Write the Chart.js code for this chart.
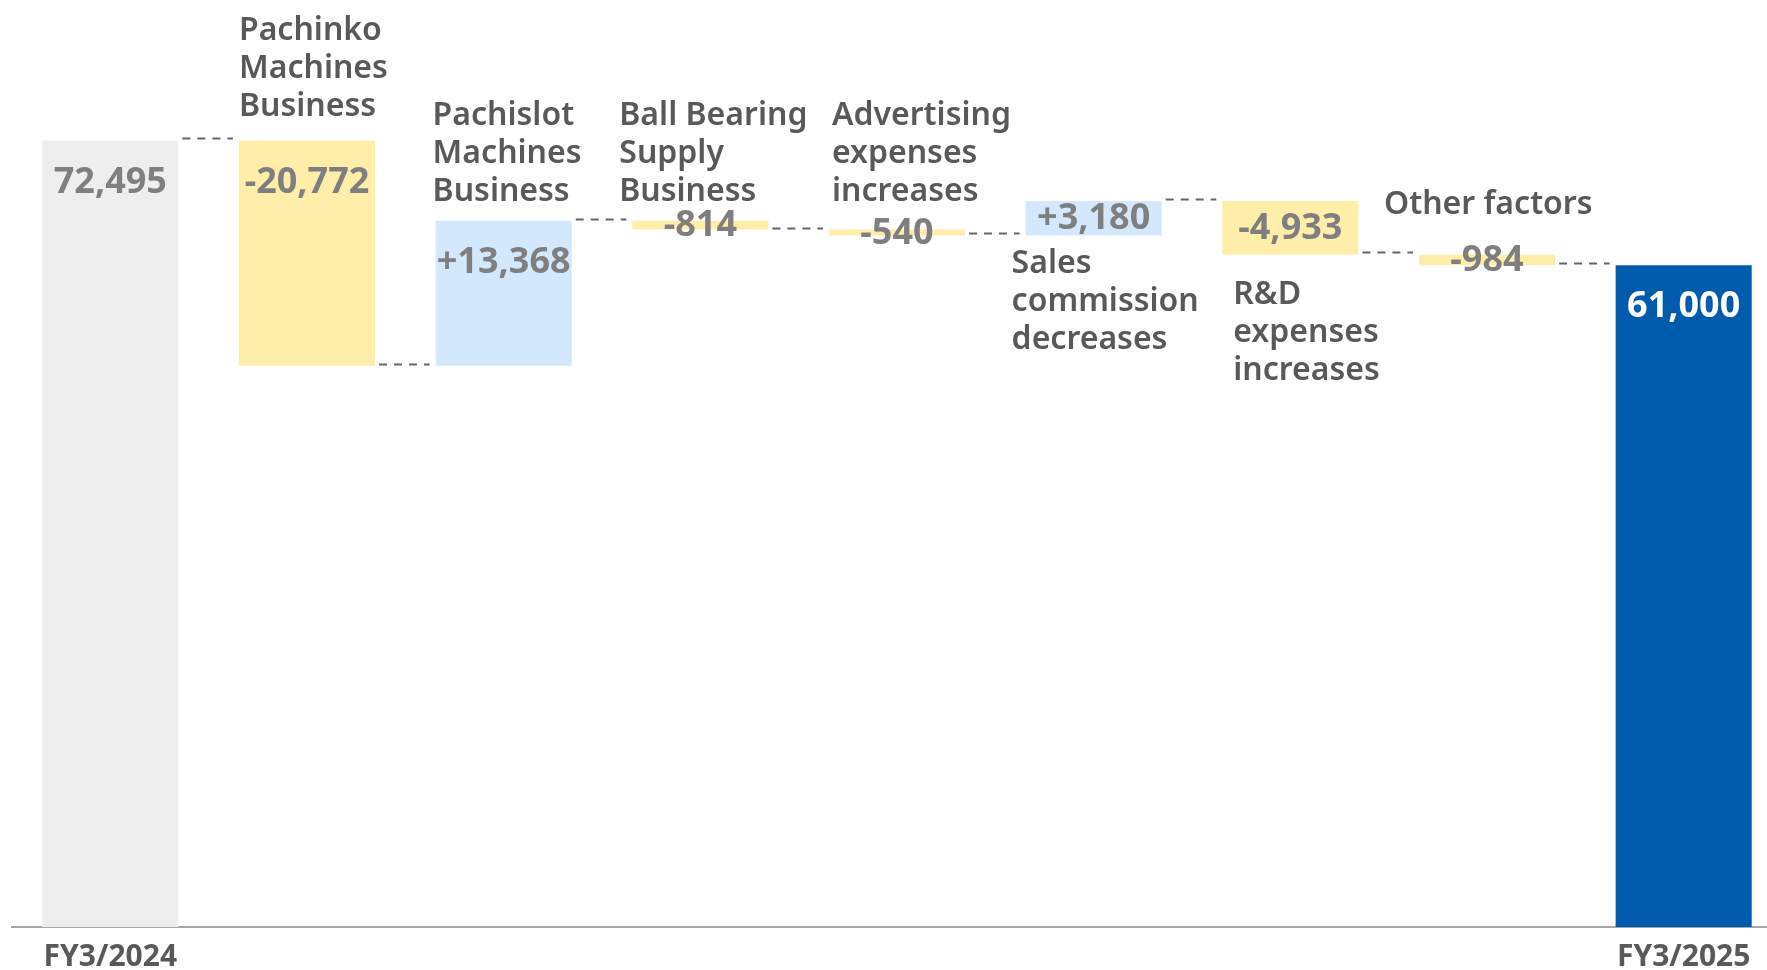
<!DOCTYPE html>
<html>
<head>
<meta charset="utf-8">
<script src="https://cdn.jsdelivr.net/npm/chart.js@4.4.1/dist/chart.umd.min.js"></script>
<style>
  html, body { margin: 0; padding: 0; overflow: hidden; background: #fff; }
  #wrap { width: 1782px; height: 987px; }
</style>
</head>
<body>
<div id="wrap"><canvas id="waterfall" width="1782" height="987"></canvas></div>
<script>
// operating income bridge, FY3/2024 -> FY3/2025 (million yen)
const stepNames = [
  null,
  ['Pachinko', 'Machines', 'Business'],
  ['Pachislot', 'Machines', 'Business'],
  ['Ball Bearing', 'Supply', 'Business'],
  ['Advertising', 'expenses', 'increases'],
  ['Sales', 'commission', 'decreases'],
  ['R&D', 'expenses', 'increases'],
  ['Other factors'],
  null
];
const axisLabels = ['FY3/2024', '', '', '', '', '', '', '', 'FY3/2025'];
const startValue = 72495;
const changes = [-20772, 13368, -814, -540, 3180, -4933, -984];
const endValue = 61000;

// floating bars: [from, to] for each step
const ranges = [[0, startValue]];
const levels = [startValue];
let running = startValue;
changes.forEach(c => {
  ranges.push([running, running + c]);
  running += c;
  levels.push(running);
});
ranges.push([0, endValue]);

const fmt = v => v.toLocaleString('en-US');
const valueText = [
  fmt(startValue),
  ...changes.map(c => (c > 0 ? '+' : '-') + fmt(Math.abs(c))),
  fmt(endValue)
];

const barColors = [
  '#EEEEEE',
  ...changes.map(c => (c < 0 ? '#FFEEA9' : '#D3E8FD')),
  '#005BAC'
];

// where each step name sits: above the bar (last baseline from top) or below (first baseline from bottom)
const namePlacement = [
  null,
  { side: 'above', dx: 0, dy: 24 },
  { side: 'above', dx: -3, dy: 20 },
  { side: 'above', dx: -13, dy: 20 },
  { side: 'above', dx: 3, dy: 29 },
  { side: 'below', dx: -14, dy: 38 },
  { side: 'below', dx: 11, dy: 50 },
  { side: 'above', dx: -35, dy: 40 },
  null
];
const nameLineHeight = 38;

const waterfallDecor = {
  id: 'waterfallDecor',
  afterDatasetsDraw(chart) {
    const ctx = chart.ctx;
    const bars = chart.getDatasetMeta(0).data;
    const yScale = chart.scales.y;
    ctx.save();

    // dashed connectors between steps
    ctx.strokeStyle = '#666666';
    ctx.lineWidth = 2;
    ctx.setLineDash([8, 7]);
    for (let i = 0; i < bars.length - 1; i++) {
      const a = bars[i], b = bars[i + 1];
      const py = Math.round(yScale.getPixelForValue(levels[i])) - 1.5;
      ctx.beginPath();
      ctx.moveTo(a.x + a.width / 2 + 4, py);
      ctx.lineTo(b.x - b.width / 2 - 6, py);
      ctx.stroke();
    }
    ctx.setLineDash([]);

    // values
    ctx.font = 'bold 36px "Noto Sans"';
    ctx.textAlign = 'center';
    ctx.textBaseline = 'middle';
    bars.forEach((bar, i) => {
      const top = Math.min(bar.y, bar.base);
      const bottom = Math.max(bar.y, bar.base);
      const cy = Math.min(top + 42, (top + bottom) / 2 + 1);
      ctx.fillStyle = i === bars.length - 1 ? '#FFFFFF' : '#7F7F7F';
      ctx.fillText(valueText[i], bar.x, cy);
    });

    // step names
    ctx.font = '600 32px "Noto Sans"';
    ctx.textAlign = 'left';
    ctx.textBaseline = 'alphabetic';
    ctx.fillStyle = '#595959';
    bars.forEach((bar, i) => {
      const p = namePlacement[i];
      const lines = stepNames[i];
      if (!p || !lines) return;
      const left = bar.x - bar.width / 2 + p.dx;
      const top = Math.min(bar.y, bar.base);
      const bottom = Math.max(bar.y, bar.base);
      const firstBase = p.side === 'above'
        ? top - p.dy - (lines.length - 1) * nameLineHeight
        : bottom + p.dy;
      lines.forEach((t, k) => ctx.fillText(t, left, firstBase + k * nameLineHeight));
    });

    ctx.restore();
  }
};

new Chart(document.getElementById('waterfall'), {
  type: 'bar',
  data: {
    labels: axisLabels,
    datasets: [{
      data: ranges,
      backgroundColor: barColors,
      borderWidth: 0,
      barPercentage: 0.692,
      categoryPercentage: 1
    }]
  },
  options: {
    responsive: false,
    animation: false,
    layout: { padding: { left: 12, top: 0, right: 0, bottom: 0 } },
    plugins: {
      legend: { display: false },
      tooltip: { enabled: false }
    },
    scales: {
      x: {
        grid: { display: false, drawTicks: false },
        border: { display: true, color: '#A6A6A6', width: 2 },
        ticks: {
          autoSkip: false,
          maxRotation: 0,
          padding: 12,
          color: '#595959',
          font: { family: 'Noto Sans', size: 30, weight: 'bold', lineHeight: 1.2 }
        }
      },
      y: { display: false, min: 0, max: 85440 }
    }
  },
  plugins: [waterfallDecor]
});
</script>
</body>
</html>
